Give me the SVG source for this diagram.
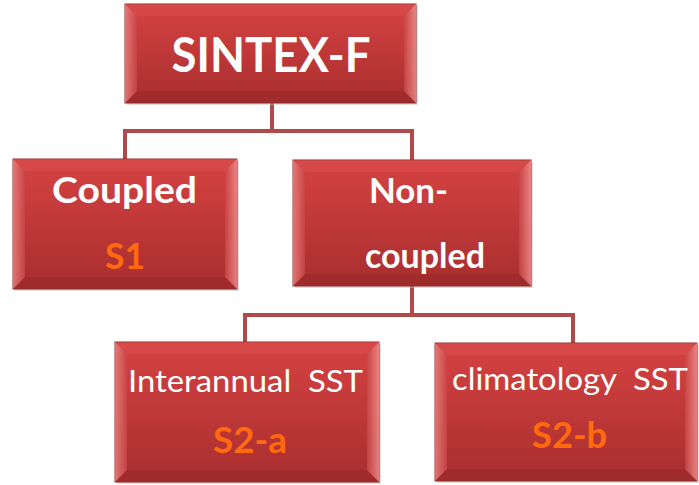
<svg xmlns="http://www.w3.org/2000/svg" width="699" height="485" viewBox="0 0 699 485">
<defs>
<linearGradient id="g" x1="0" y1="0" x2="0" y2="1">
<stop offset="0" stop-color="#d64242"/>
<stop offset="1" stop-color="#a82e2e"/>
</linearGradient>
<linearGradient id="gl" x1="0" y1="0" x2="1" y2="0">
<stop offset="0" stop-color="#ec8585"/>
<stop offset="1" stop-color="#c84646"/>
</linearGradient>
<linearGradient id="gr" x1="0" y1="0" x2="1" y2="0">
<stop offset="0" stop-color="#c84646"/>
<stop offset="1" stop-color="#f29393"/>
</linearGradient>
</defs>
<style>
.box{fill:url(#g);stroke:#8e2a2a;stroke-width:1}
.bl{fill:url(#gl);opacity:0.8}
.br{fill:url(#gr);opacity:0.8}
.bt{fill:#d95050;opacity:0.5}
.bb{fill:#962828;opacity:0.5}
.sh{fill:#bdbdbd;opacity:0.5}
.conn{fill:none;stroke:#b0494a;stroke-width:4}
.t{font-family:Lato,"Open Sans",sans-serif;fill:#ffffff;text-anchor:middle}
.b{font-weight:bold}
.o{fill:#ff6a10;font-weight:bold}
</style>
<g id="connectors">
<path class="conn" d="M272,103 V131 M125,131 H414 M125,129 V159 M412,129 V160 M412,286 V315 M245,315 H573 M245,313 V342 M573,313 V343"/>
</g>
<g id="sintex">
<rect class="sh" x="127" y="6" width="291" height="99"/>
<rect class="box" x="125" y="4" width="291" height="99"/>
<polygon class="bt" points="125,4 416,4 404,16 137,16"/>
<polygon class="bb" points="125,103 416,103 404,91 137,91"/>
<polygon class="bl" points="125,4 137,16 137,91 125,103"/>
<polygon class="br" points="416,4 404,16 404,91 416,103"/>
<text class="t b" x="271" y="72" font-size="47" textLength="199" lengthAdjust="spacingAndGlyphs">SINTEX-F</text>
</g>
<g id="coupled">
<rect class="sh" x="15" y="161" width="224" height="130"/>
<rect class="box" x="13" y="159" width="224" height="130"/>
<polygon class="bt" points="13,159 237,159 225,171 25,171"/>
<polygon class="bb" points="13,289 237,289 225,277 25,277"/>
<polygon class="bl" points="13,159 25,171 25,277 13,289"/>
<polygon class="br" points="237,159 225,171 225,277 237,289"/>
<text class="t b" x="124.5" y="203" font-size="36" textLength="145" lengthAdjust="spacingAndGlyphs">Coupled</text>
<text class="t o" x="125" y="269" font-size="36" textLength="40" lengthAdjust="spacingAndGlyphs">S1</text>
</g>
<g id="noncoupled">
<rect class="sh" x="295" y="162" width="238" height="126"/>
<rect class="box" x="293" y="160" width="238" height="126"/>
<polygon class="bt" points="293,160 531,160 519,172 305,172"/>
<polygon class="bb" points="293,286 531,286 519,274 305,274"/>
<polygon class="bl" points="293,160 305,172 305,274 293,286"/>
<polygon class="br" points="531,160 519,172 519,274 531,286"/>
<text class="t b" x="408.5" y="203" font-size="35" textLength="79" lengthAdjust="spacingAndGlyphs">Non-</text>
<text class="t b" x="425" y="268" font-size="34">coupled</text>
</g>
<g id="interannual">
<rect class="sh" x="117" y="344" width="264" height="140"/>
<rect class="box" x="115" y="342" width="264" height="140"/>
<polygon class="bt" points="115,342 379,342 367,354 127,354"/>
<polygon class="bb" points="115,482 379,482 367,470 127,470"/>
<polygon class="bl" points="115,342 127,354 127,470 115,482"/>
<polygon class="br" points="379,342 367,354 367,470 379,482"/>
<text class="t" x="245.5" y="392" font-size="30" textLength="235" lengthAdjust="spacingAndGlyphs" xml:space="preserve">Interannual  SST</text>
<text class="t o" x="250" y="453" font-size="36" textLength="74" lengthAdjust="spacingAndGlyphs">S2-a</text>
</g>
<g id="climatology">
<rect class="sh" x="437" y="345" width="262" height="138"/>
<rect class="box" x="435" y="343" width="262" height="138"/>
<polygon class="bt" points="435,343 697,343 685,355 447,355"/>
<polygon class="bb" points="435,481 697,481 685,469 447,469"/>
<polygon class="bl" points="435,343 447,355 447,469 435,481"/>
<polygon class="br" points="697,343 685,355 685,469 697,481"/>
<text class="t" x="570" y="390" font-size="30" textLength="236" lengthAdjust="spacingAndGlyphs" xml:space="preserve">climatology  SST</text>
<text class="t o" x="569.5" y="448" font-size="36" textLength="75" lengthAdjust="spacingAndGlyphs">S2-b</text>
</g>
</svg>
